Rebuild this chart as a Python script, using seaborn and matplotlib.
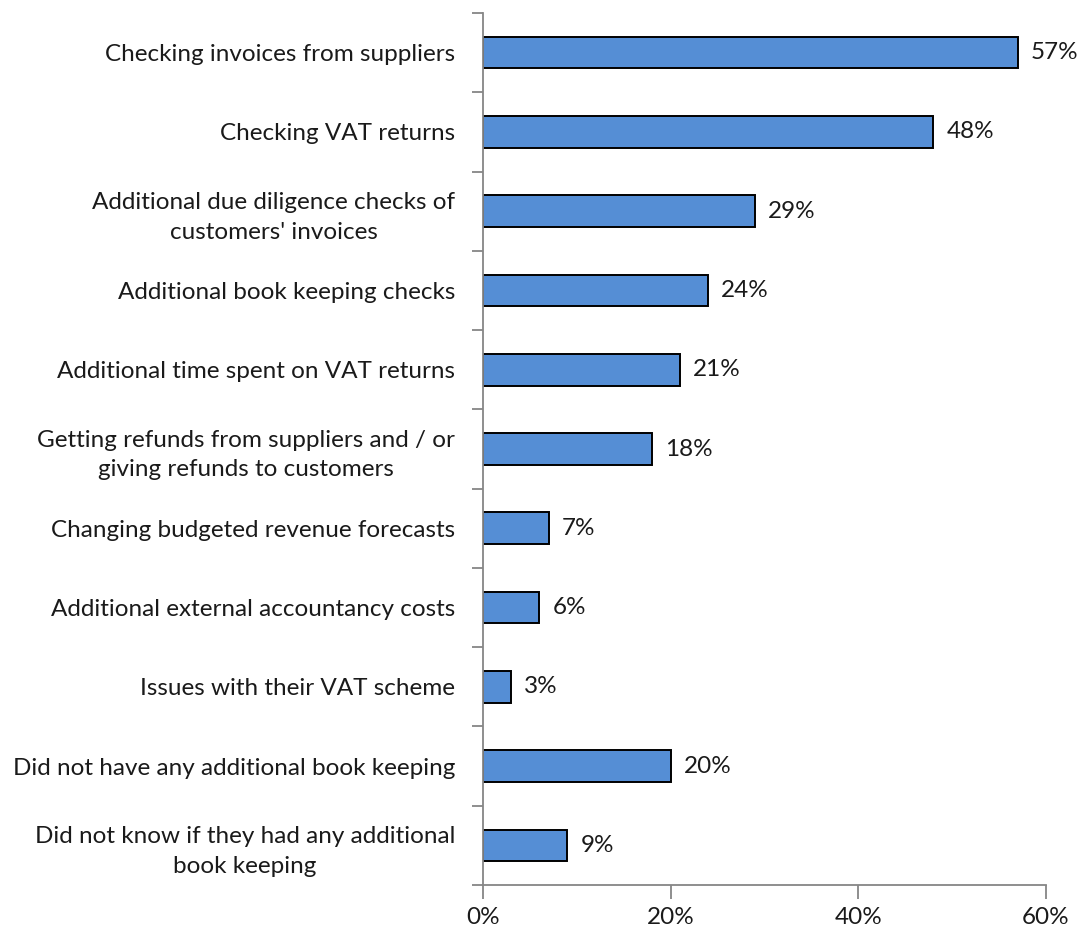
import matplotlib
matplotlib.use("Agg")
import matplotlib.pyplot as plt
import seaborn as sns
import pandas as pd
import numpy as np

categories = [
    "Checking invoices from suppliers",
    "Checking VAT returns",
    "Additional due diligence checks of\ncustomers' invoices",
    "Additional book keeping checks",
    "Additional time spent on VAT returns",
    "Getting refunds from suppliers and / or\ngiving refunds to customers",
    "Changing budgeted revenue forecasts",
    "Additional external accountancy costs",
    "Issues with their VAT scheme",
    "Did not have any additional book keeping",
    "Did not know if they had any additional\nbook keeping",
]
values = [57, 48, 29, 24, 21, 18, 7, 6, 3, 20, 9]
x_ticks = [0, 20, 40, 60]

df = pd.DataFrame({"category": categories, "value": values})

sns.set_style("white")
plt.rcParams["font.family"] = ["Lato", "DejaVu Sans"]

fig = plt.figure(figsize=(10.82, 9.30), dpi=100)
ax = fig.add_axes([483 / 1082, 1 - 885 / 930, (1046 - 483) / 1082, (885 - 13) / 930])

sns.barplot(data=df, x="value", y="category", orient="h", color="#558ED5",
            edgecolor="black", linewidth=1.4, width=0.4, saturation=1, ax=ax)

n = len(categories)
ax.set_xlim(0, 60)
ax.set_ylim(n - 0.5, -0.5)

grey = "#868686"
txt = "#1a1a1a"
fs = 17.5
for side in ["top", "right"]:
    ax.spines[side].set_visible(False)
for side in ["left", "bottom"]:
    ax.spines[side].set_color(grey)
    ax.spines[side].set_linewidth(1.3)

ax.set_xticks(x_ticks)
ax.set_xticklabels([f"{t}%" for t in x_ticks], fontsize=fs, color=txt)
ax.tick_params(axis="x", which="major", bottom=True, length=10, width=1.3,
               color=grey, pad=6, direction="out")

ax.set_yticks(range(n))
ax.set_yticklabels(categories, fontsize=fs, color=txt, linespacing=1.5,
                   multialignment="center")
ax.tick_params(axis="y", which="major", left=True, length=0, pad=20)
ax.set_yticks(np.arange(-0.5, n, 1.0), minor=True)
ax.tick_params(axis="y", which="minor", left=True, length=8, width=1.3,
               color=grey, direction="out")

ax.set_xlabel("")
ax.set_ylabel("")

for i, v in enumerate(values):
    ax.text(v + 1.4, i, f"{v}%", va="center", ha="left", fontsize=fs, color=txt)

fig.savefig("out.png", dpi=100)
